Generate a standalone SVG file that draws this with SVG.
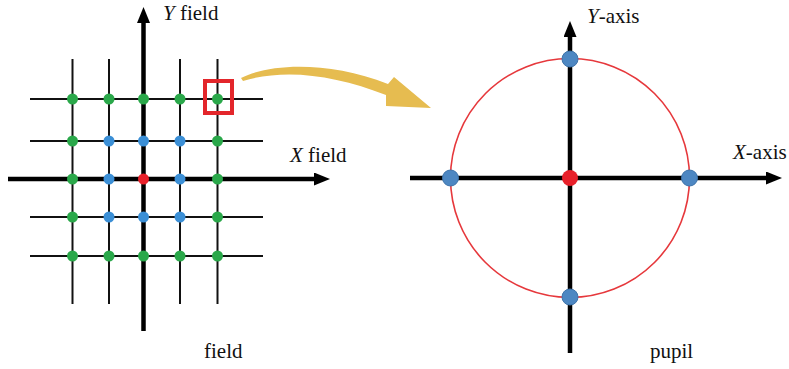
<svg xmlns="http://www.w3.org/2000/svg" width="789" height="369" viewBox="0 0 789 369">
<defs>
<marker id="ah" viewBox="0 0 16 13" refX="1" refY="6.5" markerWidth="16" markerHeight="13" markerUnits="userSpaceOnUse" orient="auto">
<path d="M0,0 L16,6.5 L0,13 Z" fill="#000"/>
</marker>
</defs>
<rect width="789" height="369" fill="#fff"/>
<g id="field-grid" stroke="#111" stroke-width="2" fill="none">
<line x1="72.5" y1="59" x2="72.5" y2="304"/>
<line x1="109" y1="59" x2="109" y2="304"/>
<line x1="180" y1="59" x2="180" y2="304"/>
<line x1="217.5" y1="59" x2="217.5" y2="304"/>
<line x1="30" y1="99" x2="263" y2="99"/>
<line x1="30" y1="141" x2="263" y2="141"/>
<line x1="30" y1="217" x2="263" y2="217"/>
<line x1="30" y1="256" x2="263" y2="256"/>
</g>
<g id="connectors">
<g stroke="#000" stroke-width="4.5" fill="none" marker-end="url(#ah)">
<line x1="143.5" y1="331" x2="143.5" y2="22"/>
<line x1="8" y1="179" x2="315" y2="179"/>
<line x1="570" y1="353" x2="570" y2="36"/>
<line x1="410" y1="178" x2="767" y2="178"/>
</g>
<path id="yellow-arrow" d="M241,78 C270,63 330,61 388,84 L394,77 L431,108 L386,106 L386,95 C335,75 285,68 243,81 Z" fill="#e6bc50"/>
</g>
<g id="field-points">
<g fill="#2aa84a">
<circle cx="72.5" cy="99" r="5.5"/><circle cx="109" cy="99" r="5.5"/><circle cx="143.5" cy="99" r="5.5"/><circle cx="180" cy="99" r="5.5"/><circle cx="217.5" cy="99" r="5.5"/>
<circle cx="72.5" cy="141" r="5.5"/><circle cx="217.5" cy="141" r="5.5"/>
<circle cx="72.5" cy="179" r="5.5"/><circle cx="217.5" cy="179" r="5.5"/>
<circle cx="72.5" cy="217" r="5.5"/><circle cx="217.5" cy="217" r="5.5"/>
<circle cx="72.5" cy="256" r="5.5"/><circle cx="109" cy="256" r="5.5"/><circle cx="143.5" cy="256" r="5.5"/><circle cx="180" cy="256" r="5.5"/><circle cx="217.5" cy="256" r="5.5"/>
</g>
<g fill="#3b8fd6">
<circle cx="109" cy="141" r="5.5"/><circle cx="143.5" cy="141" r="5.5"/><circle cx="180" cy="141" r="5.5"/>
<circle cx="109" cy="179" r="5.5"/><circle cx="180" cy="179" r="5.5"/>
<circle cx="109" cy="217" r="5.5"/><circle cx="143.5" cy="217" r="5.5"/><circle cx="180" cy="217" r="5.5"/>
</g>
<circle cx="143.5" cy="179" r="5.5" fill="#e8202a"/>
</g>
<g id="highlight-box">
<rect x="205" y="81" width="27" height="32" fill="none" stroke="#e3262b" stroke-width="4"/>
</g>
<g id="pupil">
<circle cx="570" cy="178" r="119.5" fill="none" stroke="#e6383c" stroke-width="1.6"/>
<g fill="#4d87c2" stroke="#3f74aa" stroke-width="1">
<circle cx="570" cy="59" r="8"/>
<circle cx="570" cy="297" r="8"/>
<circle cx="450.5" cy="178" r="8"/>
<circle cx="689.5" cy="178" r="8"/>
</g>
<circle cx="570" cy="178" r="8" fill="#e8202a"/>
</g>
<text x="163" y="20" fill="#111" font-family="Liberation Serif" font-size="21"><tspan font-style="italic">Y</tspan> field</text>
<text x="290" y="162" fill="#111" font-family="Liberation Serif" font-size="21"><tspan font-style="italic">X</tspan> field</text>
<text x="204" y="358" fill="#111" font-family="Liberation Serif" font-size="21">field</text>
<text x="587" y="23" fill="#111" font-family="Liberation Serif" font-size="21"><tspan font-style="italic">Y</tspan>-axis</text>
<text x="733" y="159" fill="#111" font-family="Liberation Serif" font-size="21"><tspan font-style="italic">X</tspan>-axis</text>
<text x="650" y="358" fill="#111" font-family="Liberation Serif" font-size="21">pupil</text>
</svg>
